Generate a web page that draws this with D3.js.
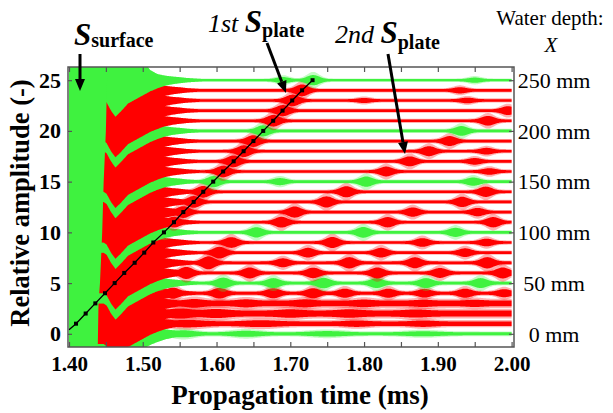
<!DOCTYPE html>
<html>
<head>
<meta charset="utf-8">
<script src="https://cdn.jsdelivr.net/npm/d3@7"></script>
<style>
body { margin: 0; background: #fff; }
svg { display: block; }
text { font-family: "Liberation Serif", "Times New Roman", serif; fill: #000; }
</style>
</head>
<body>
<svg class="chart" width="613" height="413"></svg>
<script>
// ---- data ----
const traceLevels = d3.range(0, 26);            // one trace per 10 mm of water depth
const greenTraces = [0, 5, 10, 15, 20, 25];
const depthTicks = [0, 5, 10, 15, 20, 25];
const depthLabels = ['0 mm', '50 mm', '100 mm', '150 mm', '200 mm', '250 mm'];
const xTicks = [1.40, 1.45, 1.50, 1.55, 1.60, 1.65, 1.70, 1.75, 1.80, 1.85, 1.90, 1.95, 2.00];
const xLabelTicks = [1.40, 1.50, 1.60, 1.70, 1.80, 1.90, 2.00];
const yTicks = [0, 5, 10, 15, 20, 25];

// early part (surface wave tail): lower / upper reach of each trace around its level
const earlyT    = [1.437, 1.440, 1.447, 1.451, 1.457, 1.463, 1.470, 1.480, 1.490, 1.500, 1.510, 1.520, 1.530, 1.540, 1.550, 1.560, 1.580, 1.600];
const earlyLow  = [-2.0, -2.0, -2.0, -2.2, -3.0, -3.6, -3.1, -2.3, -1.9, -1.5, -1.1, -0.8, -0.55, -0.4, -0.3, -0.22, -0.12, 0];
const earlyHigh = [4.0, 4.0, 4.0, 4.0, 4.0, 4.0, 3.6, 3.3, 3.0, 2.0, 1.0, 0.6, 0.45, 0.36, 0.3, 0.22, 0.12, 0];

// right edge of the saturated surface-wave block [time, amplitude]
const surfaceEdge = [[1.439, -1.3], [1.440, 3], [1.442, 5], [1.445, 10], [1.447, 15], [1.450, 20], [1.452, 26.3]];

// background fuzz of each trace
const baseAmp = [0.15, 0.22, 0.3, 0.28, 0.15, 0.14, 0.14, 0.14, 0.13, 0.13, 0.13, 0.13, 0.13,
                 0.13, 0.13, 0.13, 0.13, 0.13, 0.13, 0.13, 0.13, 0.13, 0.13, 0.13, 0.13, 0.11];

// wave packets per trace: [centre time, amplitude, width]
const packets = [
  [[1.555, 0.2, 0.02], [1.64, 0.15, 0.025], [1.75, 0.12, 0.03], [1.88, 0.1, 0.03]],
  [[1.56, 0.15, 0.03], [1.66, 0.12, 0.03], [1.79, 0.1, 0.02], [1.88, 0.1, 0.02]],
  [[1.55, 0.2, 0.02], [1.60, 0.15, 0.02], [1.70, 0.12, 0.02], [1.78, 0.12, 0.02], [1.87, 0.1, 0.02]],
  [[1.57, 0.15, 0.015], [1.64, 0.12, 0.015], [1.72, 0.12, 0.015], [1.80, 0.1, 0.015], [1.88, 0.08, 0.015], [1.95, 0.08, 0.015]],
  [[1.541, 0.4], [1.604, 0.38], [1.677, 0.35], [1.731, 0.35], [1.774, 0.3], [1.833, 0.3], [1.882, 0.28], [1.937, 0.3], [1.99, 0.25]],
  [[1.523, 0.35], [1.609, 0.4], [1.677, 0.35], [1.745, 0.38], [1.817, 0.35], [1.884, 0.35], [1.958, 0.35]],
  [[1.559, 0.45], [1.645, 0.4], [1.731, 0.38], [1.818, 0.4], [1.903, 0.35], [1.988, 0.4]],
  [[1.489, 0.3], [1.589, 0.5], [1.69, 0.3], [1.78, 0.42], [1.869, 0.4], [1.967, 0.42]],
  [[1.502, 0.3], [1.604, 0.45], [1.724, 0.35], [1.823, 0.35], [1.937, 0.3]],
  [[1.515, 0.35], [1.62, 0.4], [1.757, 0.42], [1.879, 0.3], [1.966, 0.25]],
  [[1.529, 0.35], [1.654, 0.38], [1.799, 0.4], [1.924, 0.32]],
  [[1.542, 0.4], [1.688, 0.4], [1.832, 0.38], [1.975, 0.38]],
  [[1.555, 0.45], [1.706, 0.42], [1.866, 0.33], [1.954, 0.28]],
  [[1.569, 0.45], [1.749, 0.42], [1.933, 0.38]],
  [[1.582, 0.45], [1.776, 0.42], [1.965, 0.38]],
  [[1.596, 0.42], [1.686, 0.22], [1.803, 0.38], [1.948, 0.28]],
  [[1.609, 0.45], [1.830, 0.36], [1.97, 0.2]],
  [[1.623, 0.45], [1.862, 0.36], [1.95, 0.2]],
  [[1.637, 0.45], [1.888, 0.36], [1.966, 0.2]],
  [[1.650, 0.45], [1.916, 0.36]],
  [[1.663, 0.42], [1.932, 0.35]],
  [[1.677, 0.45], [1.968, 0.35]],
  [[1.690, 0.42], [1.995, 0.3]],
  [[1.703, 0.45], [1.80, 0.12], [1.94, 0.15]],
  [[1.716, 0.45], [1.93, 0.18]],
  [[1.69, 0.2], [1.731, 0.4], [1.95, 0.15]]
];

// arrival of the 1st S_plate for traces 1..25, plus where the fitted line starts
const markerLevels = d3.range(1, 26);
const markerTimes = [1.4095, 1.4226, 1.4357, 1.4488, 1.4619, 1.4749, 1.489, 1.502, 1.5143, 1.5287,
                     1.5423, 1.555, 1.569, 1.582, 1.5955, 1.609, 1.6232, 1.6367, 1.650, 1.6633,
                     1.6768, 1.6895, 1.7026, 1.716, 1.7302];
const lineStart = [1.40, 0.4];

// ---- drawing ----
const chart = d3.select('.chart');
const serif = '"Liberation Serif", "Times New Roman", serif';
const red = '#ff0000';
const green = '#3ff23f';

const x = d3.scaleLinear().domain([1.40, 2.00]).range([69, 511.6]);
const y = d3.scaleLinear().domain([-1.3, 26.3]).range([347, 67]);
const box = { left: 68, right: 514, top: 67, bottom: 347 };

chart.append('defs').append('clipPath').attr('id', 'plot')
  .append('rect')
  .attr('x', box.left).attr('y', box.top)
  .attr('width', box.right - box.left).attr('height', box.bottom - box.top);

const g = chart.append('g').attr('clip-path', 'url(#plot)');

const lowEdge = d3.scaleLinear().domain(earlyT).range(earlyLow).clamp(true);
const highEdge = d3.scaleLinear().domain(earlyT).range(earlyHigh).clamp(true);
const envelope = (k, t) => baseAmp[k] +
  d3.sum(packets[k], p => p[1] * Math.exp(-Math.pow((t - p[0]) / (p[2] || 0.0115), 2)));

const tGrid = d3.range(1.437, 2.0005, 0.001);

traceLevels.forEach(k => {
  const colour = greenTraces.includes(k) ? green : red;
  // soft fringe of the oscillation, then the solid body
  [[1.6, 0.3], [1, 1]].forEach(([spread, op]) => {
    const area = d3.area()
      .x(t => x(t))
      .y0(t => y(k + Math.min(lowEdge(t), -spread * envelope(k, t))))
      .y1(t => y(k + Math.max(highEdge(t), spread * envelope(k, t))));
    g.append('path')
      .attr('d', area(tGrid))
      .attr('fill', colour)
      .attr('fill-opacity', op);
  });
});

// saturated surface wave block
const block = [[1.40, -1.3], ...surfaceEdge, [1.40, 26.3]];
g.append('path')
  .attr('d', d3.line().x(d => x(d[0])).y(d => y(d[1]))(block) + 'Z')
  .attr('fill', green);

// 1st S_plate arrival line
const linePts = [lineStart, ...markerTimes.map((t, i) => [t, markerLevels[i]])];
g.append('path')
  .attr('d', d3.line().x(d => x(d[0])).y(d => y(d[1]))(linePts))
  .attr('fill', 'none').attr('stroke', '#000').attr('stroke-width', 1.3);
g.selectAll('rect.mk').data(markerTimes).enter().append('rect')
  .attr('class', 'mk')
  .attr('x', d => x(d) - 2).attr('y', (d, i) => y(markerLevels[i]) - 2)
  .attr('width', 4).attr('height', 4).attr('fill', '#000');

// axes
const axisColor = '#555';
const styleAxis = sel => {
  sel.attr('font-family', serif);
  sel.select('.domain').remove();
  sel.selectAll('.tick line').attr('stroke', axisColor).attr('stroke-width', 1.2);
};

chart.append('g')
  .attr('transform', `translate(0,${box.bottom})`)
  .call(d3.axisBottom(x).tickValues(xTicks).tickSizeInner(-5).tickSizeOuter(0).tickPadding(9)
    .tickFormat(d => xLabelTicks.some(v => Math.abs(v - d) < 1e-6) ? d3.format('.2f')(d) : ''))
  .call(styleAxis)
  .call(s => s.selectAll('text').attr('font-size', 21).attr('font-weight', 'bold').attr('fill', '#000'));

chart.append('g')
  .attr('transform', `translate(0,${box.top})`)
  .call(d3.axisTop(x).tickValues(xTicks).tickSizeInner(-5).tickSizeOuter(0).tickFormat(''))
  .call(styleAxis);

chart.append('g')
  .attr('transform', `translate(${box.left},0)`)
  .call(d3.axisLeft(y).tickValues(yTicks).tickSizeInner(-4).tickSizeOuter(0).tickPadding(7))
  .call(styleAxis)
  .call(s => s.selectAll('text').attr('font-size', 22).attr('font-weight', 'bold').attr('fill', '#000'));

chart.append('g')
  .attr('transform', `translate(${box.right},0)`)
  .call(d3.axisRight(y).tickValues(depthTicks).tickSizeInner(-5).tickSizeOuter(0).tickFormat(''))
  .call(styleAxis);

chart.append('rect')
  .attr('x', box.left).attr('y', box.top)
  .attr('width', box.right - box.left).attr('height', box.bottom - box.top)
  .attr('fill', 'none').attr('stroke', axisColor).attr('stroke-width', 1.5);

// water depth labels on the right
chart.selectAll('text.depth').data(depthTicks).enter().append('text')
  .attr('class', 'depth')
  .attr('x', 554).attr('y', d => y(d)).attr('dy', '0.35em')
  .attr('text-anchor', 'middle').attr('font-size', 22)
  .text((d, i) => depthLabels[i]);

chart.append('text').attr('x', 550).attr('y', 25).attr('text-anchor', 'middle')
  .attr('font-size', 21).text('Water depth:');
chart.append('text').attr('x', 551).attr('y', 52).attr('text-anchor', 'middle')
  .attr('font-size', 21).attr('font-style', 'italic').text('X');

// axis titles
chart.append('text')
  .attr('transform', 'translate(29,203) rotate(-90)')
  .attr('text-anchor', 'middle').attr('font-size', 26.5).attr('font-weight', 'bold')
  .text('Relative amplitude (-)');
chart.append('text')
  .attr('x', 300).attr('y', 404).attr('text-anchor', 'middle')
  .attr('font-size', 27).attr('font-weight', 'bold')
  .text('Propagation time (ms)');

// annotations
const label = (xp, yp, pre, sub, subDy) => {
  const t = chart.append('text').attr('x', xp).attr('y', yp);
  if (pre) t.append('tspan').attr('font-style', 'italic').attr('font-size', 26).text(pre + ' ');
  t.append('tspan').attr('font-style', 'italic').attr('font-weight', 'bold').attr('font-size', 31).text('S');
  t.append('tspan').attr('font-weight', 'bold').attr('font-size', 20).attr('dy', subDy).text(sub);
};
label(74, 45, null, 'surface', 2);
label(208, 32, '1st', 'plate', 5);
label(335, 43, '2nd', 'plate', 6);

const arrow = (x1, y1, x2, y2) => {
  const a = Math.atan2(y2 - y1, x2 - x1);
  const len = 12, half = 5;
  const bx = x2 - len * Math.cos(a), by = y2 - len * Math.sin(a);
  chart.append('line').attr('x1', x1).attr('y1', y1).attr('x2', bx).attr('y2', by)
    .attr('stroke', '#000').attr('stroke-width', 3);
  const pts = [[x2, y2],
    [bx + half * Math.sin(a), by - half * Math.cos(a)],
    [bx - half * Math.sin(a), by + half * Math.cos(a)]];
  chart.append('path').attr('d', 'M' + pts.join('L') + 'Z').attr('fill', '#000');
};
arrow(80, 54, 80, 91);
arrow(267, 43, 286, 93);
arrow(388, 54, 405, 154);
</script>
</body>
</html>
